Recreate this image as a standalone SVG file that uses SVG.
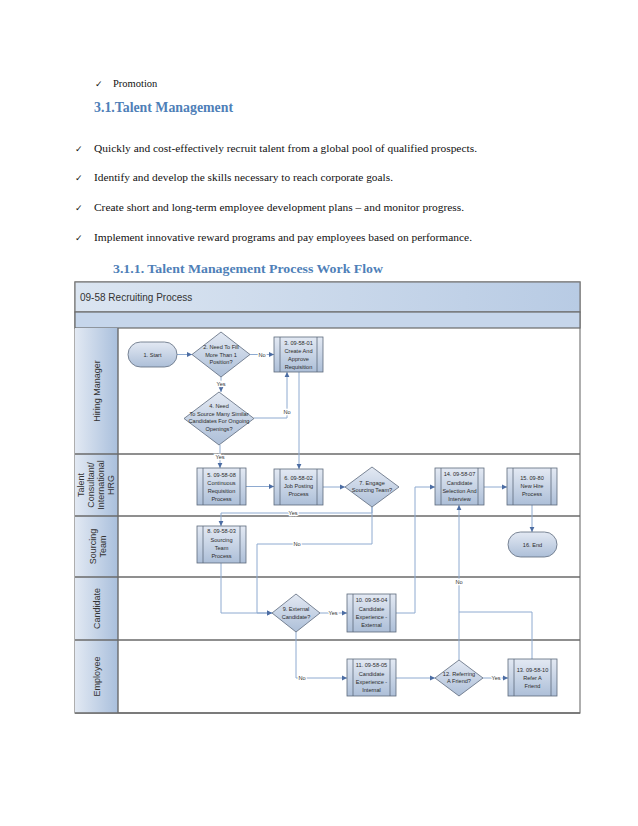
<svg xmlns="http://www.w3.org/2000/svg" width="638" height="826" viewBox="0 0 638 826">
<defs>
<linearGradient id="gNode" x1="0" y1="0" x2="0" y2="1"><stop offset="0" stop-color="#e3e9f3"/><stop offset="1" stop-color="#adbfd8"/></linearGradient>
<linearGradient id="gTitle" x1="0" y1="0" x2="1" y2="0"><stop offset="0" stop-color="#dbe5f1"/><stop offset="1" stop-color="#b8cbe4"/></linearGradient>
<linearGradient id="gLane" x1="0" y1="0" x2="1" y2="0"><stop offset="0" stop-color="#e2e9f3"/><stop offset="1" stop-color="#a9bfdc"/></linearGradient>
<marker id="ah" markerWidth="6" markerHeight="6" refX="5" refY="3" orient="auto" markerUnits="userSpaceOnUse"><path d="M0,0.6 L5,3 L0,5.4 Z" fill="#4c6da3"/></marker>
</defs>
<style>
.body{font-family:"Liberation Serif","Times New Roman",serif;font-size:10.5px;fill:#111}
.h{font-family:"Liberation Serif","Times New Roman",serif;font-weight:bold;fill:#4f7fb8}
.chk{font-family:"DejaVu Sans",sans-serif;font-size:9px;fill:#111}
.lane{font-family:"Liberation Sans",Arial,sans-serif;font-size:9px;fill:#333;text-anchor:middle}
.nt{font-family:"Liberation Sans",Arial,sans-serif;font-size:5.6px;fill:#2b2b2b;text-anchor:middle}
.lbl{font-family:"Liberation Sans",Arial,sans-serif;font-size:5.6px;fill:#333;text-anchor:middle;stroke:#fff;stroke-width:2.5px;paint-order:stroke}
.node{fill:url(#gNode);stroke:#5d6a7c;stroke-width:0.8}
.inner{stroke:#5d6a7c;stroke-width:0.8}
.con{fill:none;stroke:#8eaad0;stroke-width:1}
.sep{stroke:#6a6a6a;stroke-width:1.4}
</style>

<g id="text-above">
<text class="chk" x="95" y="87">✓</text>
<text class="body" x="113" y="87">Promotion</text>
<text class="h" x="94" y="112" font-size="14" textLength="139" lengthAdjust="spacingAndGlyphs">3.1.Talent Management</text>
<text class="chk" x="75" y="152">✓</text>
<text class="body" x="94" y="152" textLength="383" lengthAdjust="spacingAndGlyphs">Quickly and cost-effectively recruit talent from a global pool of qualified prospects.</text>
<text class="chk" x="75" y="181">✓</text>
<text class="body" x="94" y="181" textLength="299" lengthAdjust="spacingAndGlyphs">Identify and develop the skills necessary to reach corporate goals.</text>
<text class="chk" x="75" y="211">✓</text>
<text class="body" x="94" y="211" textLength="370" lengthAdjust="spacingAndGlyphs">Create short and long-term employee development plans – and monitor progress.</text>
<text class="chk" x="75" y="241">✓</text>
<text class="body" x="94" y="241" textLength="378" lengthAdjust="spacingAndGlyphs">Implement innovative reward programs and pay employees based on performance.</text>
<text class="h" x="113" y="273" font-size="13" textLength="270" lengthAdjust="spacingAndGlyphs">3.1.1.  Talent Management Process Work Flow</text>
</g>

<g id="frame">
<rect x="75" y="282" width="505" height="431" fill="#fff" stroke="#7a7a7a" stroke-width="1.2"/>
<rect x="75" y="282" width="505" height="30" fill="url(#gTitle)" stroke="#7a7a7a" stroke-width="1.2"/>
<text x="80" y="301" font-family="Liberation Sans, Arial, sans-serif" font-size="10" fill="#333">09-58 Recruiting Process</text>
<rect x="75" y="312" width="505" height="16" fill="#c6d6eb" stroke="#6a6a6a" stroke-width="1.2"/>
<rect x="75" y="328" width="43" height="385" fill="url(#gLane)"/>
<line class="sep" x1="118" y1="328" x2="118" y2="713"/>
<line class="sep" x1="75" y1="454" x2="580" y2="454"/>
<line class="sep" x1="75" y1="516" x2="580" y2="516"/>
<line class="sep" x1="75" y1="577" x2="580" y2="577"/>
<line class="sep" x1="75" y1="640" x2="580" y2="640"/>
<line class="sep" x1="75" y1="713" x2="580" y2="713"/>
</g>

<g id="lanes">
<text class="lane" transform="translate(100,391) rotate(-90)">Hiring Manager</text>
<text class="lane" transform="translate(84,485) rotate(-90)">Talent</text>
<text class="lane" transform="translate(94,485) rotate(-90)">Consultant/</text>
<text class="lane" transform="translate(104,485) rotate(-90)">International</text>
<text class="lane" transform="translate(114,485) rotate(-90)">HRG</text>
<text class="lane" transform="translate(96.3,546.5) rotate(-90)">Sourcing</text>
<text class="lane" transform="translate(105.5,546.5) rotate(-90)">Team</text>
<text class="lane" transform="translate(100,608.5) rotate(-90)">Candidate</text>
<text class="lane" transform="translate(100,676.5) rotate(-90)">Employee</text>
</g>

<g id="connectors">
<path class="con" d="M177,354.5 H192" marker-end="url(#ah)"/>
<path class="con" d="M250,354.5 H274" marker-end="url(#ah)"/>
<path class="con" d="M221,377 V392" marker-end="url(#ah)"/>
<path class="con" d="M254,418 H287 V372" marker-end="url(#ah)"/>
<path class="con" d="M299,372 V469" marker-end="url(#ah)"/>
<path class="con" d="M220,445 V468" marker-end="url(#ah)"/>
<path class="con" d="M246,486.5 H274" marker-end="url(#ah)"/>
<path class="con" d="M323,487 H345" marker-end="url(#ah)"/>
<path class="con" d="M372,507 V513 H221 V526" marker-end="url(#ah)"/>
<path class="con" d="M372,507 V544 H257 V613 H272" marker-end="url(#ah)"/>
<path class="con" d="M221,563 V613 H272" marker-end="url(#ah)"/>
<path class="con" d="M320,613 H347" marker-end="url(#ah)"/>
<path class="con" d="M296,632 V678 H347" marker-end="url(#ah)"/>
<path class="con" d="M396,613 H415 V487 H435" marker-end="url(#ah)"/>
<path class="con" d="M396,678 H435" marker-end="url(#ah)"/>
<path class="con" d="M483,678 H508" marker-end="url(#ah)"/>
<path class="con" d="M459,660 V505" marker-end="url(#ah)"/>
<path class="con" d="M532,659 V612 H459"/>
<path class="con" d="M484,487 H507" marker-end="url(#ah)"/>
<path class="con" d="M532,505 V532" marker-end="url(#ah)"/>
<text class="lbl" x="262" y="356.5">No</text>
<text class="lbl" x="221" y="386">Yes</text>
<text class="lbl" x="287" y="414">No</text>
<text class="lbl" x="220" y="459">Yes</text>
<text class="lbl" x="293" y="515">Yes</text>
<text class="lbl" x="297" y="546">No</text>
<text class="lbl" x="333" y="615">Yes</text>
<text class="lbl" x="302" y="680">No</text>
<text class="lbl" x="496" y="680">Yes</text>
<text class="lbl" x="459" y="584">No</text>
</g>

<g id="n1"><rect class="node" x="128" y="342" width="49" height="25" rx="12.5"/><text class="nt" x="152.5" y="356.5">1. Start</text></g>
<g id="n2"><polygon class="node" points="221,332 250,354.5 221,377 192,354.5"/><text class="nt" x="221" y="349">2. Need To Fill</text><text class="nt" x="221" y="356.5">More Than 1</text><text class="nt" x="221" y="364">Position?</text></g>
<g id="n3"><rect class="node" x="274" y="337" width="49" height="35"/><line class="inner" x1="280" y1="337" x2="280" y2="372"/><line class="inner" x1="317" y1="337" x2="317" y2="372"/><text class="nt" x="298.5" y="345">3. 09-58-01</text><text class="nt" x="298.5" y="353">Create And</text><text class="nt" x="298.5" y="361">Approve</text><text class="nt" x="298.5" y="369">Requisition</text></g>
<g id="n4"><polygon class="node" points="219,392 254,418.5 219,445 184,418.5"/><text class="nt" x="219" y="408">4. Need</text><text class="nt" x="219" y="415.5">To Source Many Similar</text><text class="nt" x="219" y="423">Candidates For  Ongoing</text><text class="nt" x="219" y="431">Openings?</text></g>
<g id="n5"><rect class="node" x="197" y="468" width="49" height="37"/><line class="inner" x1="203" y1="468" x2="203" y2="505"/><line class="inner" x1="240" y1="468" x2="240" y2="505"/><text class="nt" x="221.5" y="476.5">5.  09-58-08</text><text class="nt" x="221.5" y="484.5">Continuous</text><text class="nt" x="221.5" y="493">Requisition</text><text class="nt" x="221.5" y="500.5">Process</text></g>
<g id="n6"><rect class="node" x="274" y="469" width="49" height="36"/><line class="inner" x1="280" y1="469" x2="280" y2="505"/><line class="inner" x1="317" y1="469" x2="317" y2="505"/><text class="nt" x="298.5" y="480">6. 09-58-02</text><text class="nt" x="298.5" y="488">Job Posting</text><text class="nt" x="298.5" y="496">Process</text></g>
<g id="n7"><polygon class="node" points="372,467 399,487 372,507 345,487"/><text class="nt" x="372" y="485">7. Engage</text><text class="nt" x="372" y="492">Sourcing Team?</text></g>
<g id="n8"><rect class="node" x="197" y="526" width="49" height="37"/><line class="inner" x1="203" y1="526" x2="203" y2="563"/><line class="inner" x1="240" y1="526" x2="240" y2="563"/><text class="nt" x="221.5" y="533">8. 09-58-03</text><text class="nt" x="221.5" y="541.5">Sourcing</text><text class="nt" x="221.5" y="550">Team</text><text class="nt" x="221.5" y="558">Process</text></g>
<g id="n9"><polygon class="node" points="296,594 320,613 296,632 272,613"/><text class="nt" x="296" y="611">9. External</text><text class="nt" x="296" y="619">Candidate?</text></g>
<g id="n10"><rect class="node" x="347" y="594" width="49" height="38"/><line class="inner" x1="353" y1="594" x2="353" y2="632"/><line class="inner" x1="390" y1="594" x2="390" y2="632"/><text class="nt" x="371.5" y="602">10. 09-58-04</text><text class="nt" x="371.5" y="610.5">Candidate</text><text class="nt" x="371.5" y="619">Experience -</text><text class="nt" x="371.5" y="626.5">External</text></g>
<g id="n11"><rect class="node" x="347" y="659" width="49" height="37"/><line class="inner" x1="353" y1="659" x2="353" y2="696"/><line class="inner" x1="390" y1="659" x2="390" y2="696"/><text class="nt" x="371.5" y="667">11. 09-58-05</text><text class="nt" x="371.5" y="675.5">Candidate</text><text class="nt" x="371.5" y="684">Experience -</text><text class="nt" x="371.5" y="691.5">Internal</text></g>
<g id="n12"><polygon class="node" points="459,660 483,678 459,696 435,678"/><text class="nt" x="459" y="675.5">12. Referring</text><text class="nt" x="459" y="683">A Friend?</text></g>
<g id="n13"><rect class="node" x="508" y="659" width="49" height="37"/><line class="inner" x1="514" y1="659" x2="514" y2="696"/><line class="inner" x1="551" y1="659" x2="551" y2="696"/><text class="nt" x="532.5" y="671.5">13. 09-58-10</text><text class="nt" x="532.5" y="679.5">Refer A</text><text class="nt" x="532.5" y="687.5">Friend</text></g>
<g id="n14"><rect class="node" x="435" y="468" width="49" height="37"/><line class="inner" x1="441" y1="468" x2="441" y2="505"/><line class="inner" x1="478" y1="468" x2="478" y2="505"/><text class="nt" x="459.5" y="476">14. 09-58-07</text><text class="nt" x="459.5" y="484.5">Candidate</text><text class="nt" x="459.5" y="493">Selection And</text><text class="nt" x="459.5" y="500.5">Interview</text></g>
<g id="n15"><rect class="node" x="507" y="468" width="50" height="37"/><line class="inner" x1="513" y1="468" x2="513" y2="505"/><line class="inner" x1="551" y1="468" x2="551" y2="505"/><text class="nt" x="532" y="480">15. 09-80</text><text class="nt" x="532" y="488">New Hire</text><text class="nt" x="532" y="495.5">Process</text></g>
<g id="n16"><rect class="node" x="508" y="532" width="49" height="25" rx="12.5"/><text class="nt" x="532.5" y="546.5">16. End</text></g>
</svg>
